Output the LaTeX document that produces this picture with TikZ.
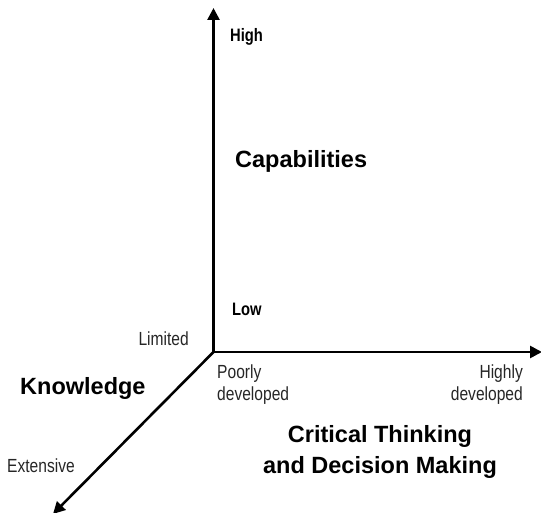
\documentclass[tikz,border=0pt]{standalone}
\usepackage{fontspec}
\setmainfont{Liberation Sans}
\newfontfamily\narrowfont[FakeStretch=0.82]{Liberation Sans}
\usetikzlibrary{arrows.meta}
\tikzset{
  axis/.style={line width=2.6pt,-{Triangle[length=12pt,width=12pt]}},
  small/.style={inner sep=0pt,font=\narrowfont\fontsize{19}{22}\selectfont,text=black!85},
  smallbold/.style={inner sep=0pt,font=\narrowfont\bfseries\fontsize{18}{22}\selectfont},
  big/.style={inner sep=0pt,font=\bfseries\fontsize{23.5}{31}\selectfont}
}
\begin{document}
\begin{tikzpicture}[x=1pt,y=-1pt]
\useasboundingbox (0,0) rectangle (541,513);
\coordinate (O) at (213.5,352);
\coordinate (V) at (213.5,8);
\coordinate (H) at (542,352);
\coordinate (D) at (53,514);
\draw[axis] (O) -- (V);
\draw[axis] (O) -- (H);
\draw[axis] (O) -- (D);
\node[smallbold,anchor=base west] (high) at (230,42) {High};
\node[smallbold,anchor=base west] (low) at (232,316) {Low};
\node[big,anchor=base west] (cap) at (235,168) {Capabilities};
\node[small,anchor=base east] (lim) at (189,345) {Limited};
\node[small,anchor=base west,align=left] (poor) at (217,400) {Poorly\\developed};
\node[small,anchor=base east,align=right] (highly) at (523,400) {Highly\\developed};
\node[big,anchor=base west] (know) at (20,394) {Knowledge};
\node[small,anchor=base west] (ext) at (7,472) {Extensive};
\node[big,anchor=base,align=center] (ct) at (380,473) {Critical Thinking\\and Decision Making};
\end{tikzpicture}
\end{document}
